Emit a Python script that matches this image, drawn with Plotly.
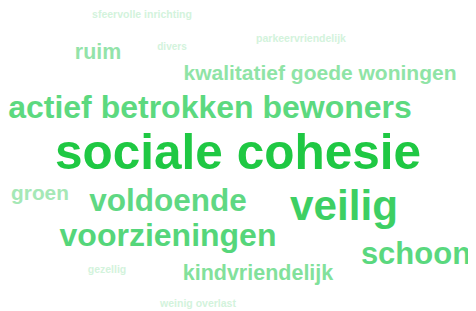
import plotly.graph_objects as go

words = ["sociale cohesie", "veilig", "actief betrokken bewoners", "voldoende",
         "voorzieningen", "schoon", "kwalitatief goede woningen", "kindvriendelijk",
         "ruim", "groen", "sfeervolle inrichting", "parkeervriendelijk", "divers",
         "gezellig", "weinig overlast"]
weights = [10, 8, 6, 6, 6, 6, 4, 4, 4, 4, 1, 1, 1, 1, 1]

# layout of the cloud (pixel positions of word centres in the window)
pos_x = [238, 344, 210, 168, 168, 416, 320, 258, 98, 40, 142, 301, 172, 107, 198]
pos_y = [157, 209, 110, 203, 238, 256, 75, 275, 54, 195, 15, 39, 47, 270, 304]
sizes = [49.5, 42.2, 32, 31.5, 32, 31, 21, 21.5, 21.4, 20.8, 10.5, 10.5, 10, 10.5, 10.5]
colors = ["#1fc843", "#3dcf63", "#5cd97f", "#5fd883", "#55d67a", "#5ad87e",
          "#8fe4a6", "#82e19b", "#93e3a9", "#a5e8b6", "#d3f3dc", "#d3f3dc",
          "#d3f3dc", "#d3f3dc", "#d3f3dc"]

fig = go.Figure(go.Scatter(
    x=pos_x, y=pos_y, text=words, mode="text",
    textposition="middle center",
    textfont=dict(family="Liberation Sans", size=sizes, color=colors, weight="bold"),
    hoverinfo="text", hovertext=[f"{w}: {v}" for w, v in zip(words, weights)],
))
# page body has an 8px margin; size and ranges compensate so window pixels == data units
fig.update_layout(
    width=468, height=303, margin=dict(l=0, r=0, t=0, b=0),
    paper_bgcolor="white", plot_bgcolor="white", showlegend=False,
    xaxis=dict(range=[8, 476], visible=False, fixedrange=True),
    yaxis=dict(range=[311, 8], visible=False, fixedrange=True),
)
fig.write_html("out.html")
